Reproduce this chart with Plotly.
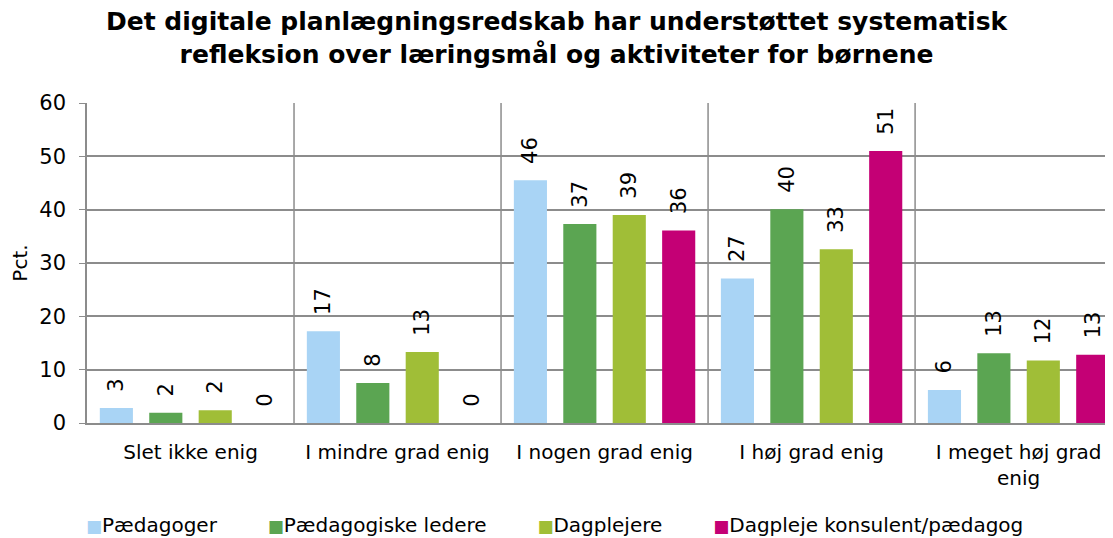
import plotly.graph_objects as go

# data
categories = ["Slet ikke enig", "I mindre grad enig", "I nogen grad enig",
              "I høj grad enig", "I meget høj grad<br>enig"]
paedagoger = [2.8, 17.2, 45.5, 27.1, 6.2]
ledere = [1.9, 7.5, 37.3, 40.1, 13.1]
dagplejere = [2.4, 13.3, 39.0, 32.6, 11.7]
konsulent = [0, 0, 36.1, 51.0, 12.8]
labels_p = ["3", "17", "46", "27", "6"]
labels_l = ["2", "8", "37", "40", "13"]
labels_d = ["2", "13", "39", "33", "12"]
labels_k = ["0", "0", "36", "51", "13"]

series = [
    ("Pædagoger", paedagoger, labels_p, "#A9D4F5"),
    ("Pædagogiske ledere", ledere, labels_l, "#5BA552"),
    ("Dagplejere", dagplejere, labels_d, "#A0BE37"),
    ("Dagpleje konsulent/pædagog", konsulent, labels_k, "#C40075"),
]

font = "DejaVu Sans, Verdana, sans-serif"
grid = "#8C8C8C"

fig = go.Figure()
for name, vals, labs, col in series:
    fig.add_trace(go.Bar(
        x=list(range(len(categories))), y=vals, name=name,
        marker_color=col, marker_line_width=0,
        # leading nbsp's lift the rotated label a bit off the bar
        text=["\u00a0\u00a0" + l for l in labs], textposition="outside", textangle=-90,
        textfont=dict(size=21, color="black", family=font),
        constraintext="none", cliponaxis=False, showlegend=False,
    ))

# category separators
for i in range(len(categories) - 1):
    fig.add_shape(type="line", xref="x", yref="y", x0=i + 0.5, x1=i + 0.5,
                  y0=0, y1=60, line=dict(color=grid, width=1.5), layer="below")

# title
fig.add_annotation(
    text="<b>Det digitale planlægningsredskab har understøttet systematisk<br>refleksion over læringsmål og aktiviteter for børnene</b>",
    xref="paper", yref="paper", x=0.459, y=1.2016, xanchor="center", yanchor="middle",
    showarrow=False, font=dict(size=25, family=font, color="black"),
)

# legend drawn as one text line, like the Excel one
sep = "\u00a0" * 8
legend_txt = sep.join(
    f"<span style='color:{col};font-size:17px'>■</span>{name}" for name, _, _, col in series
)
fig.add_annotation(
    text=legend_txt, xref="paper", yref="paper", x=0.456, y=-0.319,
    xanchor="center", yanchor="middle", showarrow=False,
    font=dict(size=20, family=font, color="black"),
)

fig.update_layout(
    width=1105, height=530,
    margin=dict(l=79, r=0, t=95, b=115),
    paper_bgcolor="white", plot_bgcolor="white",
    font=dict(family=font, size=20, color="black"),
    barmode="group", bargap=0.045, bargroupgap=0.33,
    xaxis=dict(
        tickmode="array", tickvals=list(range(len(categories))), ticktext=categories,
        range=[-0.5, 4.456], showgrid=False, showline=True, linecolor=grid,
        linewidth=1.5, ticks="", tickfont=dict(size=20), ticklabelstandoff=10,
    ),
    yaxis=dict(
        range=[0, 60], dtick=10, showgrid=True, gridcolor=grid, gridwidth=1.5,
        showline=True, linecolor=grid, linewidth=1.5, ticks="outside",
        ticklen=6, tickcolor=grid, tickfont=dict(size=21), zeroline=False,
        ticklabelstandoff=9,
        title=dict(text="Pct.", font=dict(size=20), standoff=10),
    ),
)

fig.write_html("out.html")
